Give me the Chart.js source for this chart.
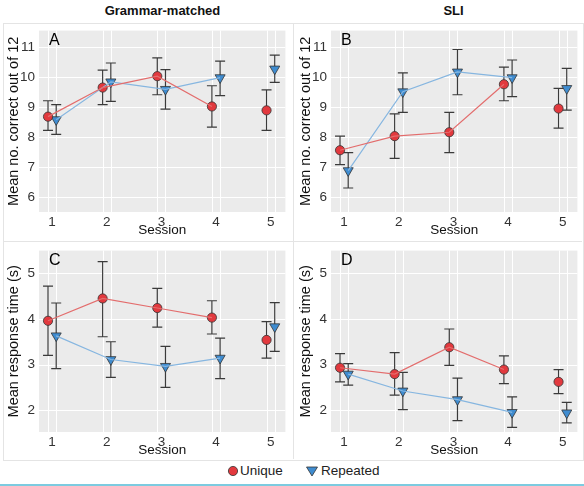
<!DOCTYPE html>
<html>
<head>
<meta charset="utf-8">
<script src="https://cdn.jsdelivr.net/npm/chart.js@4.4.1/dist/chart.umd.min.js"></script>
<style>
body { margin: 0; background: #fff; width: 584px; height: 486px; position: relative; overflow: hidden; font-family: "Liberation Sans", Arial, sans-serif; }
.head { position: absolute; top: 3px; width: 289px; text-align: center; font-weight: bold; font-size: 13px; color: #111; }
.box { position: absolute; border: 1px solid #e4e4e4; }
.wrap { position: absolute; width: 289px; height: 216px; }
.lg { position: absolute; top: 463px; font-size: 13.5px; color: #222; line-height: 16px; }
.rule { position: absolute; left: 0; top: 484px; width: 584px; height: 2px; background: #7ccbe0; }
</style>
</head>
<body>
<div class="head" style="left:18px">Grammar-matched</div>
<div class="head" style="left:309px">SLI</div>
<div class="box" style="left:3px;top:23px;width:579px;height:436px"></div>
<div class="box" style="left:293px;top:23px;width:0;height:436px;border-width:0 0 0 1px"></div>
<div class="box" style="left:3px;top:241px;width:579px;height:0;border-width:1px 0 0 0"></div>

<div class="wrap" style="left:3px;top:24px"><canvas id="cA" width="289" height="216"></canvas></div>
<div class="wrap" style="left:295px;top:24px"><canvas id="cB" width="289" height="216"></canvas></div>
<div class="wrap" style="left:3px;top:244px"><canvas id="cC" width="289" height="216"></canvas></div>
<div class="wrap" style="left:295px;top:244px"><canvas id="cD" width="289" height="216"></canvas></div>

<svg class="lg" style="left:227px;top:465px" width="12" height="12"><circle cx="6" cy="6" r="4.6" fill="#e2393e" stroke="#333" stroke-width="0.8"/></svg>
<div class="lg" style="left:240px">Unique</div>
<svg class="lg" style="left:305px;top:465px" width="14" height="12"><polygon points="1.5,2 12.5,2 7,11" fill="#3f8cd0" stroke="#333" stroke-width="0.8"/></svg>
<div class="lg" style="left:321px">Repeated</div>
<div class="rule"></div>

<script>
// sessions and tick values
const sessions = [1, 2, 3, 4, 5];
const accTicks = [6, 7, 8, 9, 10, 11];
const rtTicks = [2, 3, 4, 5];

// A: grammar-matched, accuracy
const gmAccUnique = [8.68, 9.65, 10.03, 9.02, 8.89];
const gmAccUniqueLo = [8.22, 9.08, 9.41, 8.33, 8.22];
const gmAccUniqueHi = [9.21, 10.23, 10.64, 9.71, 9.57];
const gmAccRepeated = [8.58, 9.84, 9.59, 9.98, 10.27];
const gmAccRepeatedLo = [8.09, 9.19, 8.93, 9.38, 9.82];
const gmAccRepeatedHi = [9.08, 10.47, 10.25, 10.53, 10.73];

// B: SLI, accuracy
const sliAccUnique = [7.56, 8.03, 8.16, 9.76, 8.95];
const sliAccUniqueLo = [7.08, 7.29, 7.48, 9.21, 8.30];
const sliAccUniqueHi = [8.03, 8.77, 8.82, 10.33, 9.62];
const sliAccRepeated = [6.88, 9.51, 10.17, 9.98, 9.62];
const sliAccRepeatedLo = [6.30, 8.82, 9.41, 9.35, 8.90];
const sliAccRepeatedHi = [7.48, 10.14, 10.92, 10.57, 10.29];

// C: grammar-matched, response time
const gmRtUnique = [3.96, 4.45, 4.24, 4.03, 3.54];
const gmRtUniqueLo = [3.20, 3.61, 3.82, 3.67, 3.14];
const gmRtUniqueHi = [4.72, 5.26, 4.67, 4.40, 3.94];
const gmRtRepeated = [3.63, 3.11, 2.96, 3.14, 3.83];
const gmRtRepeatedLo = [2.91, 2.72, 2.50, 2.69, 3.29];
const gmRtRepeatedHi = [4.35, 3.50, 3.40, 3.58, 4.36];

// D: SLI, response time
const sliRtUnique = [2.93, 2.79, 3.38, 2.89, 2.62];
const sliRtUniqueLo = [2.62, 2.33, 2.98, 2.58, 2.36];
const sliRtUniqueHi = [3.24, 3.26, 3.78, 3.19, 2.89];
const sliRtRepeated = [2.79, 2.42, 2.23, 1.95, 1.94];
const sliRtRepeatedLo = [2.55, 2.01, 1.77, 1.62, 1.72];
const sliRtRepeatedHi = [3.02, 2.83, 2.70, 2.29, 2.17];

const dodge = 0.075;
const red = '#e2393e', blue = '#3f8cd0';
const redLine = '#e36d6d', blueLine = '#86b6e0';
const fontFam = '"Liberation Sans", Arial, sans-serif';

function pts(vals, off, n) {
    return vals.slice(0, n).map((v, i) => ({ x: sessions[i] + off, y: v }));
}

const panelPlugin = {
    id: 'panel',
    beforeDatasetsDraw(chart, args, opts) {
        const ctx = chart.ctx, a = chart.chartArea;
        const xs = chart.scales.x, ys = chart.scales.y;
        ctx.save();
        ctx.fillStyle = '#ebebeb';
        ctx.fillRect(a.left, a.top, a.right - a.left, a.bottom - a.top);
        ctx.strokeStyle = '#ffffff';
        ctx.lineWidth = 1;
        ys.ticks.forEach(t => {
            const py = Math.round(ys.getPixelForValue(t.value)) + 0.5;
            ctx.beginPath(); ctx.moveTo(a.left, py); ctx.lineTo(a.right, py); ctx.stroke();
        });
        sessions.forEach(s => {
            [s - dodge, s + dodge].forEach(v => {
                const px = Math.round(xs.getPixelForValue(v)) + 0.5;
                ctx.beginPath(); ctx.moveTo(px, a.top); ctx.lineTo(px, a.bottom); ctx.stroke();
            });
        });
        // error bars
        ctx.strokeStyle = '#3a3a3a';
        ctx.lineWidth = 1.2;
        opts.bars.forEach(b => {
            b.lo.forEach((lo, i) => {
                const px = xs.getPixelForValue(sessions[i] + b.off);
                const p1 = ys.getPixelForValue(lo), p2 = ys.getPixelForValue(b.hi[i]);
                ctx.beginPath();
                ctx.moveTo(px, p1); ctx.lineTo(px, p2);
                ctx.moveTo(px - 5, p1); ctx.lineTo(px + 5, p1);
                ctx.moveTo(px - 5, p2); ctx.lineTo(px + 5, p2);
                ctx.stroke();
            });
        });
        ctx.restore();
    },
    afterDraw(chart, args, opts) {
        const ctx = chart.ctx, a = chart.chartArea;
        ctx.save();
        ctx.fillStyle = '#000';
        ctx.font = '16px ' + fontFam;
        ctx.textBaseline = 'top';
        ctx.fillText(opts.letter, a.left + 10, a.top + 2);
        ctx.restore();
    }
};

function makePanel(id, letter, yTitle, yMin, yMax, yTicks, uni, uniLo, uniHi, rep, repLo, repHi) {
    new Chart(document.getElementById(id), {
        type: 'scatter',
        data: {
            datasets: [
                { data: pts(uni, -dodge, 4), showLine: true, borderColor: redLine, borderWidth: 1.2, pointRadius: 0 },
                { data: pts(rep, dodge, 4), showLine: true, borderColor: blueLine, borderWidth: 1.2, pointRadius: 0 },
                { data: pts(uni, -dodge, 5), pointStyle: 'circle', pointRadius: 4.6, backgroundColor: red, borderColor: '#333', borderWidth: 0.8 },
                { data: pts(rep, dodge, 5), pointStyle: 'triangle', rotation: 180, pointRadius: 5.8, backgroundColor: blue, borderColor: '#333', borderWidth: 0.8 }
            ]
        },
        options: {
            responsive: false,
            animation: false,
            layout: { padding: { top: 0, right: 5, left: 0, bottom: 0 } },
            plugins: {
                legend: { display: false },
                tooltip: { enabled: false },
                panel: {
                    letter: letter,
                    bars: [{ off: -dodge, lo: uniLo, hi: uniHi }, { off: dodge, lo: repLo, hi: repHi }]
                }
            },
            scales: {
                x: {
                    type: 'linear', min: 0.76, max: 5.27,
                    afterBuildTicks: s => { s.ticks = sessions.map(v => ({ value: v })); },
                    afterFit: s => { s.height = 28; s.paddingLeft = 0; s.paddingRight = 0; },
                    grid: { display: false, drawTicks: false },
                    border: { display: false },
                    ticks: { padding: 2, color: '#333', font: { size: 13.5, family: fontFam } },
                    title: { display: true, text: 'Session', color: '#111', padding: { top: 0, bottom: 2 }, font: { size: 13.5, family: fontFam } }
                },
                y: {
                    min: yMin, max: yMax,
                    afterBuildTicks: s => { s.ticks = yTicks.map(v => ({ value: v })); },
                    afterFit: s => { s.width = 36; s.paddingTop = 4; s.paddingBottom = 0; },
                    grid: { display: false, drawTicks: false },
                    border: { display: false },
                    ticks: { padding: 4, color: '#333', font: { size: 13.5, family: fontFam } },
                    title: { display: true, text: yTitle, color: '#111', padding: { top: 2, bottom: 0 }, font: { size: 14.5, family: fontFam } }
                }
            }
        },
        plugins: [panelPlugin]
    });
}

makePanel('cA', 'A', 'Mean no. correct out of 12', 5.5, 11.55, accTicks,
    gmAccUnique, gmAccUniqueLo, gmAccUniqueHi, gmAccRepeated, gmAccRepeatedLo, gmAccRepeatedHi);
makePanel('cB', 'B', 'Mean no. correct out of 12', 5.5, 11.55, accTicks,
    sliAccUnique, sliAccUniqueLo, sliAccUniqueHi, sliAccRepeated, sliAccRepeatedLo, sliAccRepeatedHi);
makePanel('cC', 'C', 'Mean response time (s)', 1.52, 5.5, rtTicks,
    gmRtUnique, gmRtUniqueLo, gmRtUniqueHi, gmRtRepeated, gmRtRepeatedLo, gmRtRepeatedHi);
makePanel('cD', 'D', 'Mean response time (s)', 1.52, 5.5, rtTicks,
    sliRtUnique, sliRtUniqueLo, sliRtUniqueHi, sliRtRepeated, sliRtRepeatedLo, sliRtRepeatedHi);
</script>
</body>
</html>
